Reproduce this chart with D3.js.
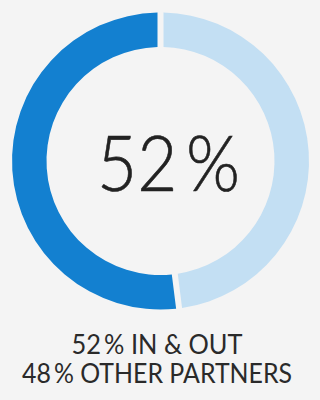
<!DOCTYPE html>
<html><head><meta charset="utf-8">
<script src="https://cdn.jsdelivr.net/npm/d3@7"></script>
<style>html,body{margin:0;padding:0;background:#f4f4f4;}svg{display:block;}</style>
</head><body>
<svg id="c" width="320" height="400"></svg>
<script>
const categories = ["IN & OUT", "OTHER PARTNERS"];
const values = [52, 48];
const colors = ["#1380d0", "#c3dff3"];
const centerLabel = "52\u2009%";

const svg = d3.select("#c");
const cx = 160.5, cy = 161, rOuter = 148.5, rInner = 114;
const g = svg.append("g").attr("transform", `translate(${cx},${cy})`);
const pie = d3.pie().sort(null).startAngle(0).endAngle(-2 * Math.PI);
const arc = d3.arc().innerRadius(rInner).outerRadius(rOuter).padRadius(rOuter).padAngle(6 / rOuter);
const color = d3.scaleOrdinal().domain(categories).range(colors);
g.selectAll("path").data(pie(values)).join("path")
  .attr("d", arc).attr("fill", (d, i) => color(categories[i]));

const font = "Lato, 'Open Sans', sans-serif";
g.append("text").attr("x", 8).attr("y", 30).attr("text-anchor", "middle")
  .attr("font-family", font).attr("font-weight", 300).attr("font-size", 76).attr("fill", "#222")
  .attr("stroke", "#222").attr("stroke-width", 0.6)
  .attr("textLength", 143).attr("lengthAdjust", "spacingAndGlyphs")
  .text(centerLabel);

const lines = categories.map((c, i) => `${values[i]}\u2009% ${c}`);
const widths = [171, 270];
svg.selectAll("text.leg").data(lines).join("text").attr("class", "leg")
  .attr("x", 157).attr("y", (d, i) => 354 + i * 29).attr("text-anchor", "middle")
  .attr("font-family", font).attr("font-weight", 400).attr("font-size", 26).attr("fill", "#2a2a2a")
  .attr("textLength", (d, i) => widths[i]).attr("lengthAdjust", "spacingAndGlyphs")
  .text(d => d);
</script>
</body></html>
